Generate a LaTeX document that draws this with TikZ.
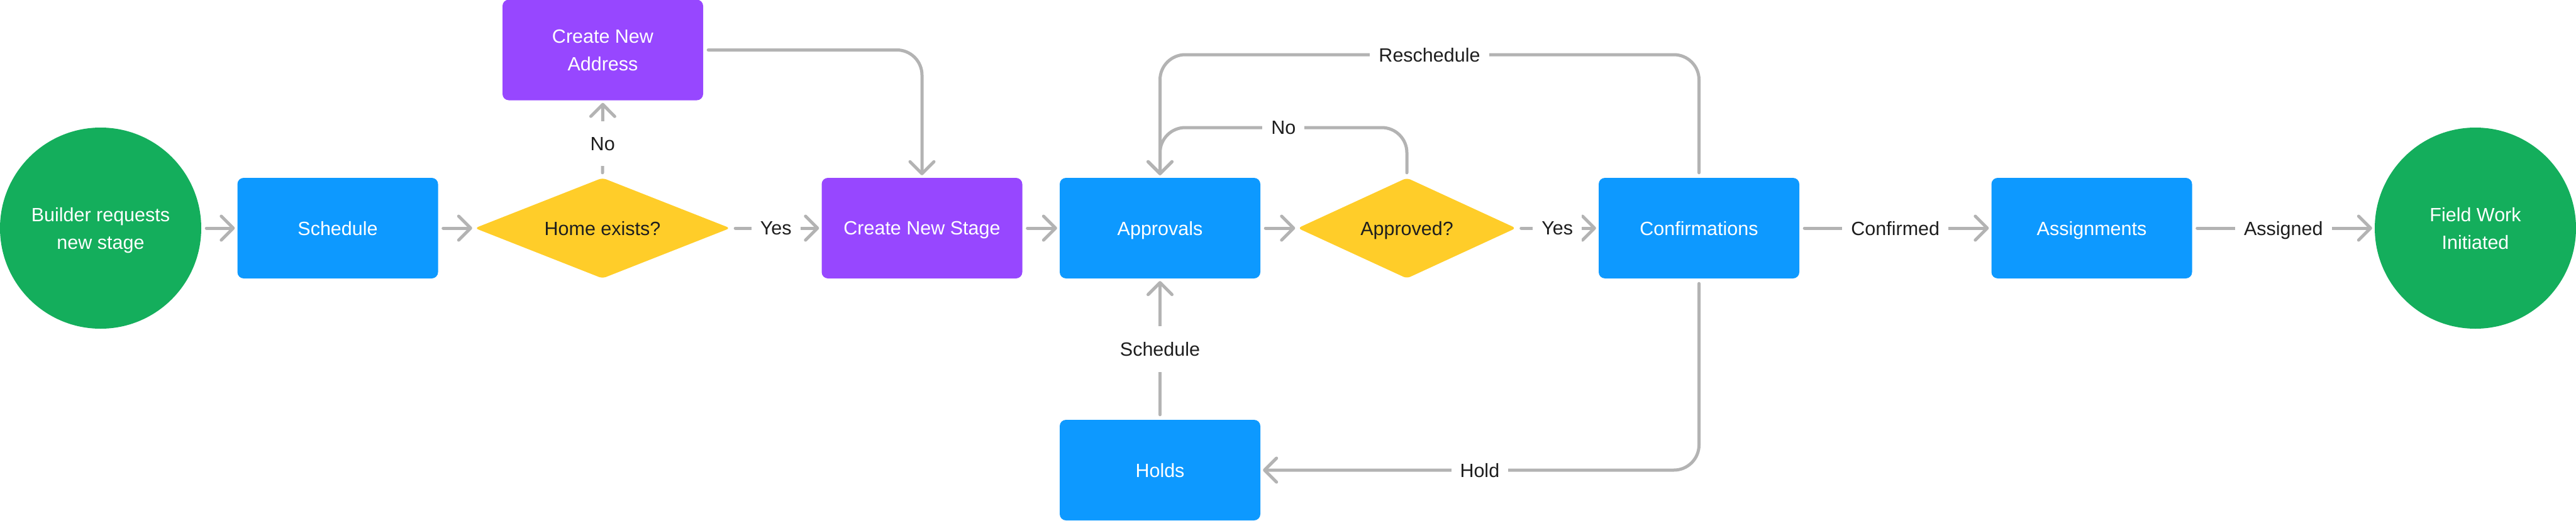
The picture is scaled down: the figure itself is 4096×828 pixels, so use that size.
\documentclass[tikz,border=0pt]{standalone}
\usepackage{fontspec}
\setmainfont{Liberation Sans}
\usetikzlibrary{arrows.meta,shapes.geometric}
\definecolor{cgreen}{HTML}{14AE5C}
\definecolor{cblue}{HTML}{0D99FF}
\definecolor{cpurple}{HTML}{9747FF}
\definecolor{cyellow}{HTML}{FFCD29}
\definecolor{cline}{HTML}{B3B3B3}
\definecolor{ctext}{HTML}{1E1E1E}
\begin{document}
\begin{tikzpicture}[x=1pt,y=-1pt,
  every node/.style={font=\fontsize{30.5}{44}\selectfont, align=center, inner sep=0pt, text depth=0pt},
  stepbox/.style={rectangle, rounded corners=10pt, fill=cblue, text=white, minimum width=319pt, minimum height=160pt},
  newbox/.style={stepbox, fill=cpurple},
  endpoint/.style={circle, fill=cgreen, text=white, minimum size=320pt},
  decision/.style={diamond, aspect=2.5, fill=cyellow, text=ctext, minimum width=406pt, minimum height=160pt, rounded corners=6pt},
  conn/.style={draw=cline, line width=5pt, line cap=round, rounded corners=40pt,
    -{Straight Barb[length=19pt,width=38pt,round]}, shorten <=8pt, shorten >=4pt},
  lbl/.style={fill=white, text=ctext, inner xsep=14pt, inner ysep=25pt, rounded corners=0pt},
]
\useasboundingbox (0,0) rectangle (4096,828);

% nodes
\node[endpoint] (start) at (160,363) {Builder requests\\new stage};
\node[stepbox] (sched) at (537,363) {Schedule};
\node[decision] (home) at (958,363) {Home exists?};
\node[newbox] (cna) at (958.5,79.5) {Create New\\Address};
\node[newbox] (cns) at (1466,363) {Create New Stage};
\node[stepbox] (appr) at (1844.5,363) {Approvals};
\node[decision, minimum width=347pt] (appd) at (2237,363) {Approved?};
\node[stepbox] (conf) at (2701.5,363) {Confirmations};
\node[stepbox] (asgn) at (3326,363) {Assignments};
\node[endpoint] (field) at (3936,363) {Field Work\\Initiated};
\node[stepbox] (holds) at (1844.5,748) {Holds};

\coordinate (ry) at (0,87);
\coordinate (ny) at (0,203);

% connectors
\draw[conn] (start) -- (sched);
\draw[conn] (sched) -- (home);
\draw[conn] (home.north) -- node[lbl, pos=0.44] {No} (cna.south);
\draw[conn] (home.east) -- node[lbl] {Yes} (cns.west);
\draw[conn] (cna.east) -| (cns.north);
\draw[conn] (cns) -- (appr);
\draw[conn] (appr) -- (appd.west);
\draw[conn] (appd.east) -- node[lbl] {Yes} (conf.west);
\draw[conn] (appd.north) -- (appd.north |- ny) -| node[lbl, pos=0.25] {No} (appr.north);
\draw[conn] (conf.north) -- (conf.north |- ry) -| node[lbl, pos=0.25] {Reschedule} (appr.north);
\draw[conn] (conf.east) -- node[lbl] {Confirmed} (asgn.west);
\draw[conn] (asgn.east) -- node[lbl] {Assigned} (field.west);
\draw[conn] (conf.south) |- node[lbl, pos=0.75] {Hold} (holds.east);
\draw[conn] (holds.north) -- node[lbl] {Schedule} (appr.south);
\end{tikzpicture}
\end{document}
